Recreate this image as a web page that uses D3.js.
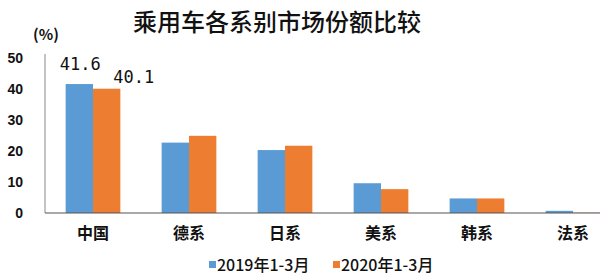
<!DOCTYPE html>
<html>
<head>
<meta charset="utf-8">
<script src="https://cdn.jsdelivr.net/npm/d3@7"></script>
<style>
  body { margin: 0; background: #fff; }
  svg { display: block; font-family: "Noto Sans CJK SC", sans-serif; }
</style>
</head>
<body>
<svg width="600" height="277"></svg>
<script>
let categories = ["中国", "德系", "日系", "美系", "韩系", "法系"],
    series = ["2019年1-3月", "2020年1-3月"],
    v2019 = [41.6, 22.7, 20.3, 9.6, 4.7, 0.7],
    v2020 = [40.1, 24.9, 21.7, 7.7, 4.7, 0.1],
    yTicks = [0, 10, 20, 30, 40, 50],
    colors = ["#5B9BD5", "#ED7D31"];

let svg = d3.select("svg"),
    x0 = d3.scaleBand().domain(categories).range([45, 621]).paddingInner(0.43).paddingOuter(0.215),
    x1 = d3.scaleBand().domain(series).range([0, x0.bandwidth()]),
    y = d3.scaleLinear().domain([0, 50]).range([213, 58]),
    rows = categories.map((c, i) => ({cat: c, vals: [v2019[i], v2020[i]]}));

// title
svg.append("text")
   .attr("x", 277).attr("y", 31)
   .attr("text-anchor", "middle")
   .attr("font-size", 24)
   .attr("font-weight", 500)
   .attr("fill", "#111")
   .text("乘用车各系别市场份额比较");

svg.append("text")
   .attr("x", 46).attr("y", 40)
   .attr("text-anchor", "middle")
   .attr("font-size", 15).attr("font-weight", "bold")
   .attr("fill", "#111")
   .text("(%)");

// y axis labels
svg.append("g")
   .selectAll("text")
   .data(yTicks)
   .enter()
   .append("text")
   .attr("x", 23)
   .attr("y", d => y(d))
   .attr("dy", "0.35em")
   .attr("text-anchor", "end")
   .attr("font-size", 14).attr("font-weight", "bold")
   .attr("font-family", "Liberation Sans, sans-serif")
   .attr("fill", "#111")
   .text(d => d);

// bars
let groups = svg.append("g")
   .selectAll(".grp")
   .data(rows)
   .enter()
   .append("g")
   .attr("transform", d => `translate(${x0(d.cat)},0)`);

groups.selectAll("rect")
   .data(d => d.vals.map((v, i) => ({s: series[i], v: v, i: i})))
   .enter()
   .append("rect")
   .attr("x", d => x1(d.s))
   .attr("y", d => y(d.v))
   .attr("width", x1.bandwidth())
   .attr("height", d => y(0) - y(d.v))
   .attr("fill", d => colors[d.i]);

// axes lines
svg.append("line")
   .attr("x1", 45).attr("x2", 45)
   .attr("y1", y(50) - 4).attr("y2", y(0))
   .attr("stroke", "#888").attr("stroke-width", 1);
svg.append("line")
   .attr("x1", 45).attr("x2", 600)
   .attr("y1", y(0)).attr("y2", y(0))
   .attr("stroke", "#555").attr("stroke-width", 1.2);

// category labels
svg.append("g")
   .selectAll("text")
   .data(categories)
   .enter()
   .append("text")
   .attr("x", d => x0(d) + x0.bandwidth() / 2)
   .attr("y", 239)
   .attr("text-anchor", "middle")
   .attr("font-size", 16).attr("font-weight", "bold")
   .attr("fill", "#111")
   .text(d => d);

// data labels for China
let chinaLabels = [{s: series[0], v: v2019[0], dx: 1, dy: -14}, {s: series[1], v: v2020[0], dx: 27, dy: -6}];
svg.append("g")
   .selectAll("text")
   .data(chinaLabels)
   .enter()
   .append("text")
   .attr("x", d => x0(categories[0]) + x1(d.s) + x1.bandwidth() / 2 + d.dx)
   .attr("y", d => y(d.v) + d.dy)
   .attr("text-anchor", "middle")
   .attr("font-size", 17)
   .attr("font-family", "DejaVu Sans Mono, monospace")
   .attr("fill", "#111")
   .text(d => d.v.toFixed(1));

// legend
let legend = svg.append("g")
   .selectAll("g")
   .data(series)
   .enter()
   .append("g")
   .attr("transform", (d, i) => `translate(${209 + i * 124},265)`);

legend.append("rect")
   .attr("x", 0).attr("y", -4)
   .attr("width", 7).attr("height", 7)
   .attr("fill", (d, i) => colors[i]);

legend.append("text")
   .attr("x", 8).attr("y", 0)
   .attr("dy", "0.35em")
   .attr("font-size", 16).attr("font-weight", 500)
   .attr("fill", "#111")
   .text(d => d);
</script>
</body>
</html>
